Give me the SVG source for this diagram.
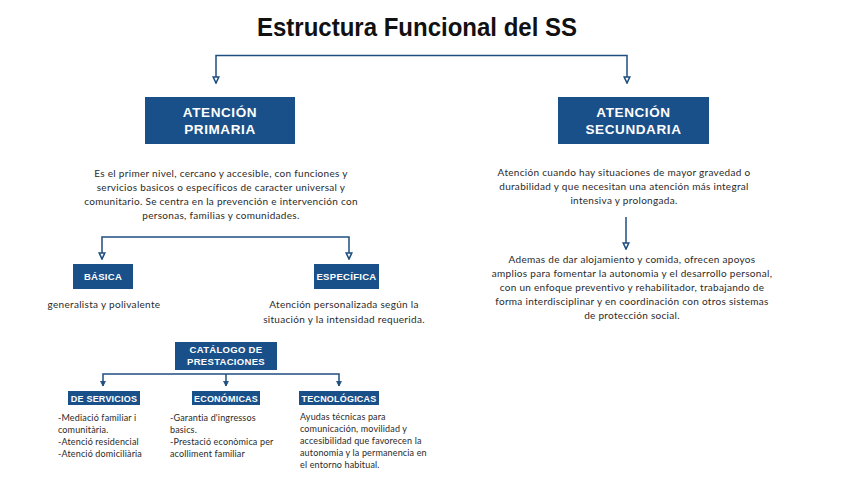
<svg xmlns="http://www.w3.org/2000/svg" width="848" height="477" viewBox="0 0 848 477">
<style>
.bg{fill:#ffffff}
.box{fill:#1a5089}
.lbl{font-family:"Liberation Sans",Arial,sans-serif;font-weight:bold;fill:#ffffff;text-anchor:middle}
.big{font-size:13.5px;letter-spacing:0.6px}
.sm{font-size:9.5px;letter-spacing:0.3px}
.xs{font-size:9px;letter-spacing:0.2px}
.txt{font-family:Lato,"Liberation Sans",sans-serif;font-size:10px;letter-spacing:0.3px;fill:#2a2a2a}
.c{text-anchor:middle}
.lst{font-family:Lato,"Liberation Sans",sans-serif;font-size:9px;letter-spacing:0.15px;fill:#2a2a2a}
.ln{fill:none;stroke:#1f4f80;stroke-width:1.5}
.title{font-family:"Liberation Sans",Arial,sans-serif;font-weight:bold;font-size:25px;fill:#111111;text-anchor:middle}
</style>
<defs>
<marker id="ah" viewBox="0 0 10 10" refX="9" refY="5" markerWidth="8" markerHeight="8" markerUnits="userSpaceOnUse" orient="auto-start-reverse">
<path d="M1.5,1.5 L9,5 L1.5,8.5 z" fill="#ffffff" stroke="#1f4f80" stroke-width="2"/>
</marker>
<marker id="ahs" viewBox="0 0 10 10" refX="9" refY="5" markerWidth="6" markerHeight="6" markerUnits="userSpaceOnUse" orient="auto-start-reverse">
<path d="M1,1 L9,5 L1,9 z" fill="#1f4f80" stroke="#1f4f80" stroke-width="1.5"/>
</marker>
</defs>
<rect class="bg" x="0" y="0" width="848" height="477"/>
<text id="title" class="title" x="417" y="36" textLength="320" lengthAdjust="spacingAndGlyphs">Estructura Funcional del SS</text>

<g id="connectors">
<path class="ln" d="M216,83 V55.5 H627 V83" stroke-width="2" marker-start="url(#ah)" marker-end="url(#ah)"/>
<path class="ln" d="M102,259 V237 H349 V259" marker-start="url(#ah)" marker-end="url(#ah)"/>
<path class="ln" d="M626,217 V249" marker-end="url(#ah)"/>
<path class="ln" d="M103,386 V374 H339 V386" marker-start="url(#ahs)" marker-end="url(#ahs)"/>
<path class="ln" d="M226,374 V386" marker-end="url(#ahs)"/>
</g>

<g id="primaria">
<rect class="box" x="145" y="97" width="150" height="47"/>
<text class="lbl big" x="220" y="117">ATENCIÓN</text>
<text class="lbl big" x="220" y="134">PRIMARIA</text>
</g>
<g id="secundaria">
<rect class="box" x="558" y="97" width="151" height="47"/>
<text class="lbl big" x="633.5" y="117">ATENCIÓN</text>
<text class="lbl big" x="633.5" y="134">SECUNDARIA</text>
</g>

<g id="primaria-desc">
<text class="txt c" x="221" y="176.5">Es el primer nivel, cercano y accesible, con funciones y</text>
<text class="txt c" x="221" y="190.5">servicios basicos o específicos de caracter universal y</text>
<text class="txt c" x="221" y="204.5">comunitario. Se centra en la prevención e intervención con</text>
<text class="txt c" x="221" y="218.5">personas, familias y comunidades.</text>
</g>

<g id="secundaria-desc">
<text class="txt c" x="624" y="175.5">Atención cuando hay situaciones de mayor gravedad o</text>
<text class="txt c" x="624" y="189.5">durabilidad y que necesitan una atención más integral</text>
<text class="txt c" x="624" y="203.5">intensiva y prolongada.</text>
</g>

<g id="secundaria-detalle">
<text class="txt c" x="632" y="262.5">Ademas de dar alojamiento y comida, ofrecen apoyos</text>
<text class="txt c" x="632" y="276.5">amplios para fomentar la autonomia y el desarrollo personal,</text>
<text class="txt c" x="632" y="290.5">con un enfoque preventivo y rehabilitador, trabajando de</text>
<text class="txt c" x="632" y="304.5">forma interdisciplinar y en coordinación con otros sistemas</text>
<text class="txt c" x="632" y="318.5">de protección social.</text>
</g>

<g id="basica">
<rect class="box" x="73" y="264" width="60" height="25"/>
<text class="lbl sm" x="103" y="280">BÁSICA</text>
</g>
<g id="especifica">
<rect class="box" x="314" y="264" width="65" height="25"/>
<text class="lbl sm" x="346.5" y="280">ESPECÍFICA</text>
</g>
<text id="basica-desc" class="txt c" x="104" y="307.5">generalista y polivalente</text>
<g id="especifica-desc">
<text class="txt c" x="344" y="307.5">Atención personalizada según la</text>
<text class="txt c" x="344" y="322.5">situación y la intensidad requerida.</text>
</g>

<g id="catalogo">
<rect class="box" x="175" y="342" width="102" height="28"/>
<text class="lbl sm" x="226" y="353">CATÁLOGO DE</text>
<text class="lbl sm" x="226" y="365">PRESTACIONES</text>
</g>
<g id="servicios">
<rect class="box" x="68" y="391" width="72" height="14"/>
<text class="lbl xs" x="104" y="401.5">DE SERVICIOS</text>
</g>
<g id="economicas">
<rect class="box" x="192" y="391" width="68" height="14"/>
<text class="lbl xs" x="226" y="401.5">ECONÓMICAS</text>
</g>
<g id="tecnologicas">
<rect class="box" x="299" y="391" width="80" height="14"/>
<text class="lbl xs" x="339" y="401.5">TECNOLÓGICAS</text>
</g>

<g id="servicios-list">
<text class="lst" x="58" y="421">-Mediació familiar i</text>
<text class="lst" x="58" y="433">comunitària.</text>
<text class="lst" x="58" y="445">-Atenció residencial</text>
<text class="lst" x="58" y="457">-Atenció domiciliària</text>
</g>
<g id="economicas-list">
<text class="lst" x="170" y="421">-Garantia d'ingressos</text>
<text class="lst" x="170" y="433">basics.</text>
<text class="lst" x="170" y="445">-Prestació econòmica per</text>
<text class="lst" x="170" y="457">acolliment familiar</text>
</g>
<g id="tecnologicas-list">
<text class="lst" x="300" y="420">Ayudas técnicas para</text>
<text class="lst" x="300" y="432">comunicación, movilidad y</text>
<text class="lst" x="300" y="444">accesibilidad que favorecen la</text>
<text class="lst" x="300" y="456">autonomia y la permanencia en</text>
<text class="lst" x="300" y="468">el entorno habitual.</text>
</g>
</svg>
